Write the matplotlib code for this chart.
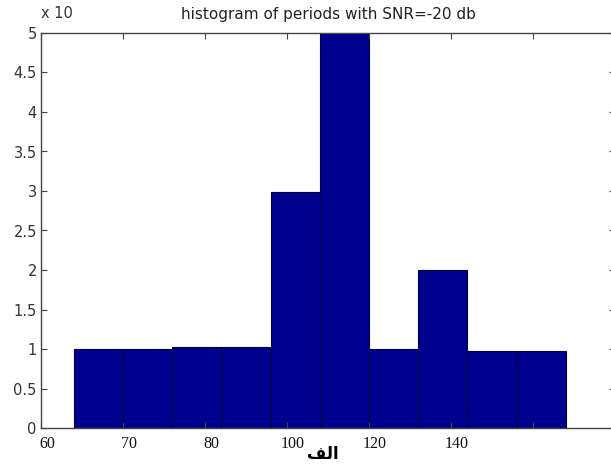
import matplotlib.pyplot as plt
from matplotlib.transforms import ScaledTranslation

# histogram data (10 bins, MATLAB-style)
bin_edges = [64, 70, 76, 82, 88, 94, 100, 106, 112, 118, 124]
counts = [1.0, 1.0, 1.02, 1.02, 2.99, 5.0, 1.0, 2.0, 0.97, 0.97]

x_ticks = [60, 70, 80, 90, 100, 110, 120, 130]
x_ticklabels = ["60", "70", "80", "100", "120", "140", "", ""]
y_ticks = [0, 0.5, 1, 1.5, 2, 2.5, 3, 3.5, 4, 4.5, 5]
y_ticklabels = ["0", "0.5", "1", "1.5", "2", "2.5", "3", "3.5", "4", "4.5", "5"]

fig = plt.figure(figsize=(6.11, 4.69), dpi=100)
ax = fig.add_axes([41/611, 41/469, 574/611, 395/469])

widths = [bin_edges[i+1] - bin_edges[i] for i in range(len(counts))]
ax.bar(bin_edges[:-1], counts, width=widths, align='edge',
       color='#00008f', edgecolor='#00003a', linewidth=0.8)

ax.set_xlim(60, 130)
ax.set_ylim(0, 5)
ax.set_xticks(x_ticks)
ax.set_xticklabels(x_ticklabels, family='Liberation Serif', fontsize=11.5, color='#111111')
ax.set_yticks(y_ticks)
ax.set_yticklabels(y_ticklabels, fontsize=10.5, color='#333333')
ax.tick_params(direction='in', top=True, right=True, length=4, width=0.8,
               color='#444444', pad=3)
ax.tick_params(axis='x', pad=6)
# the pasted x labels sit a little right of their ticks
shift = ScaledTranslation(6/100, 0, fig.dpi_scale_trans)
for lab in ax.get_xticklabels():
    lab.set_transform(lab.get_transform() + shift)
for s in ax.spines.values():
    s.set_color('#444444')
    s.set_linewidth(1.0)

ax.set_title("histogram of periods with SNR=-20 db", fontsize=11,
             color='#222222', pad=10)
ax.text(0.0, 1.03, "x 10", transform=ax.transAxes, fontsize=10.5,
        color='#333333', ha='left', va='bottom')
# Arabic label "الف" in presentation forms so it shapes correctly
ax.set_xlabel("\ufed2\ufedf\ufe8d", family=['Liberation Serif', 'DejaVu Sans'],
              fontsize=12, fontweight='bold')
ax.xaxis.set_label_coords((323-41)/574, -0.068)
ax.xaxis.label.set_va('center')

fig.savefig("out.png", dpi=100)
